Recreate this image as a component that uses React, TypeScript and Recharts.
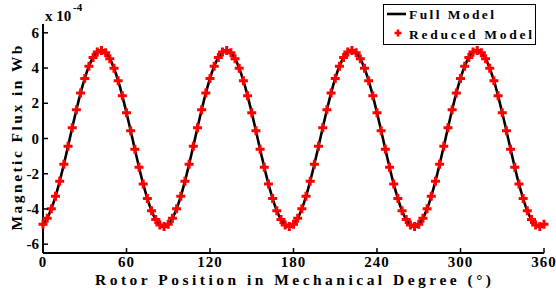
import React from "react";
import { ComposedChart, Line, XAxis, YAxis } from "recharts";

// Rotor position (mechanical degrees)
const rotorAngles = [
  0, 3, 6, 9, 12, 15, 18, 21, 24, 27, 30, 33, 36, 39, 42, 45, 48, 51, 54, 57,
  60, 63, 66, 69, 72, 75, 78, 81, 84, 87, 90, 93, 96, 99, 102, 105, 108, 111, 114, 117,
  120, 123, 126, 129, 132, 135, 138, 141, 144, 147, 150, 153, 156, 159, 162, 165, 168, 171, 174, 177,
  180, 183, 186, 189, 192, 195, 198, 201, 204, 207, 210, 213, 216, 219, 222, 225, 228, 231, 234, 237,
  240, 243, 246, 249, 252, 255, 258, 261, 264, 267, 270, 273, 276, 279, 282, 285, 288, 291, 294, 297,
  300, 303, 306, 309, 312, 315, 318, 321, 324, 327, 330, 333, 336, 339, 342, 345, 348, 351, 354, 357,
  360,
];

// Magnetic flux (x 10^-4 Wb), full model
const fullModelFlux = [
  -4.87, -4.53, -3.99, -3.28, -2.42, -1.46, -0.44, 0.61, 1.63, 2.58, 3.41, 4.1, 4.6, 4.91, 5.0, 4.87, 4.53, 3.99, 3.28, 2.42, 1.46, 0.44, -0.61, -1.63, -2.58, -3.41, -4.1, -4.6, -4.91, -5.0,
  -4.87, -4.53, -3.99, -3.28, -2.42, -1.46, -0.44, 0.61, 1.63, 2.58, 3.41, 4.1, 4.6, 4.91, 5.0, 4.87, 4.53, 3.99, 3.28, 2.42, 1.46, 0.44, -0.61, -1.63, -2.58, -3.41, -4.1, -4.6, -4.91, -5.0,
  -4.87, -4.53, -3.99, -3.28, -2.42, -1.46, -0.44, 0.61, 1.63, 2.58, 3.41, 4.1, 4.6, 4.91, 5.0, 4.87, 4.53, 3.99, 3.28, 2.42, 1.46, 0.44, -0.61, -1.63, -2.58, -3.41, -4.1, -4.6, -4.91, -5.0,
  -4.87, -4.53, -3.99, -3.28, -2.42, -1.46, -0.44, 0.61, 1.63, 2.58, 3.41, 4.1, 4.6, 4.91, 5.0, 4.87, 4.53, 3.99, 3.28, 2.42, 1.46, 0.44, -0.61, -1.63, -2.58, -3.41, -4.1, -4.6, -4.91, -5.0,
  -4.87,
];

// Magnetic flux (x 10^-4 Wb), reduced model
const reducedModelFlux = [
  -4.87, -4.53, -3.99, -3.28, -2.42, -1.46, -0.44, 0.61, 1.63, 2.58, 3.41, 4.1, 4.6, 4.91, 5.0, 4.87, 4.53, 3.99, 3.28, 2.42, 1.46, 0.44, -0.61, -1.63, -2.58, -3.41, -4.1, -4.6, -4.91, -5.0,
  -4.87, -4.53, -3.99, -3.28, -2.42, -1.46, -0.44, 0.61, 1.63, 2.58, 3.41, 4.1, 4.6, 4.91, 5.0, 4.87, 4.53, 3.99, 3.28, 2.42, 1.46, 0.44, -0.61, -1.63, -2.58, -3.41, -4.1, -4.6, -4.91, -5.0,
  -4.87, -4.53, -3.99, -3.28, -2.42, -1.46, -0.44, 0.61, 1.63, 2.58, 3.41, 4.1, 4.6, 4.91, 5.0, 4.87, 4.53, 3.99, 3.28, 2.42, 1.46, 0.44, -0.61, -1.63, -2.58, -3.41, -4.1, -4.6, -4.91, -5.0,
  -4.87, -4.53, -3.99, -3.28, -2.42, -1.46, -0.44, 0.61, 1.63, 2.58, 3.41, 4.1, 4.6, 4.91, 5.0, 4.87, 4.53, 3.99, 3.28, 2.42, 1.46, 0.44, -0.61, -1.63, -2.58, -3.41, -4.1, -4.6, -4.91, -5.0,
  -4.87,
];

const xTicks = [0, 60, 120, 180, 240, 300, 360];
const yTicks = [-6, -4, -2, 0, 2, 4, 6];
const seriesNames = ["Full Model", "Reduced Model"];
const xAxisTitle = "Rotor Position in Mechanical Degree (°)";
const yAxisTitle = "Magnetic Flux in Wb";

const data = rotorAngles.map((a, i) => ({
  angle: a,
  full: fullModelFlux[i],
  reduced: reducedModelFlux[i],
}));

const FONT = "Liberation Serif, serif";
const RED = "#ff0000";

const XTick = (props: any) => {
  const { x, y, payload } = props;
  return (
    <g>
      <line x1={x} y1={y} x2={x} y2={y - 5} stroke="#000" strokeWidth={1.5} />
      <text x={x} y={y + 14} textAnchor="middle" fontFamily={FONT} fontWeight="bold" fontSize={15} letterSpacing={1}>
        {payload.value}
      </text>
    </g>
  );
};

const YTick = (props: any) => {
  const { x, y, payload } = props;
  return (
    <g>
      <line x1={x} y1={y} x2={x + 5} y2={y} stroke="#000" strokeWidth={1.5} />
      <text x={x - 4} y={y + 5} textAnchor="end" fontFamily={FONT} fontWeight="bold" fontSize={15}>
        {payload.value}
      </text>
    </g>
  );
};

const Plus = (props: any) => {
  const { cx, cy, index } = props;
  if (cx == null || cy == null) return <g key={index} />;
  return (
    <path
      key={index}
      d={`M${cx - 4.5},${cy}H${cx + 4.5}M${cx},${cy - 4.5}V${cy + 4.5}`}
      stroke={RED}
      strokeWidth={3}
      fill="none"
    />
  );
};

export default function App() {
  return (
    <div style={{ position: "absolute", left: 0, top: 0, width: 556, height: 290, background: "#fff" }}>
      <ComposedChart
        width={556}
        height={290}
        data={data}
        margin={{ top: 24, right: 12, bottom: 0, left: 0 }}
      >
        <XAxis
          dataKey="angle"
          type="number"
          domain={[0, 360]}
          ticks={xTicks}
          height={37}
          tickSize={0}
          tickMargin={0}
          tickLine={false}
          axisLine={{ stroke: "#000", strokeWidth: 2 }}
          tick={<XTick />}
          interval={0}
        />
        <YAxis
          type="number"
          domain={[-6.5, 6.5]}
          ticks={yTicks}
          width={43}
          tickSize={0}
          tickMargin={0}
          tickLine={false}
          axisLine={{ stroke: "#000", strokeWidth: 2 }}
          tick={<YTick />}
          interval={0}
          allowDataOverflow
        />
        <Line
          dataKey="full"
          name={seriesNames[0]}
          type="monotone"
          stroke="#000"
          strokeWidth={2.6}
          dot={false}
          isAnimationActive={false}
        />
        <Line
          dataKey="reduced"
          name={seriesNames[1]}
          type="linear"
          stroke="none"
          dot={<Plus />}
          activeDot={false}
          isAnimationActive={false}
        />
        <text x={45} y={21} fontFamily={FONT} fontWeight="bold" fontSize={15}>x 10</text>
        <text x={73} y={11} fontFamily={FONT} fontWeight="bold" fontSize={11}>-4</text>
        <text
          x={293}
          y={285}
          textAnchor="middle"
          fontFamily={FONT}
          fontWeight="bold"
          fontSize={15.5}
          textLength={396}
          lengthAdjust="spacing"
        >
          {xAxisTitle}
        </text>
        <text
          transform="translate(22,138) rotate(-90)"
          x={0}
          y={0}
          textAnchor="middle"
          fontFamily={FONT}
          fontWeight="bold"
          fontSize={15.5}
          textLength={185}
          lengthAdjust="spacing"
        >
          {yAxisTitle}
        </text>
        <g>
          <rect x={383.5} y={4.5} width={152} height={40} fill="#fff" stroke="#000" strokeWidth={1} />
          <line x1={387} y1={14} x2={406} y2={14} stroke="#000" strokeWidth={2.6} />
          <text x={409} y={19} fontFamily={FONT} fontWeight="bold" fontSize={13.5} textLength={85} lengthAdjust="spacing">
            {seriesNames[0]}
          </text>
          <path d="M394.5,33H401.5M398,29.5V36.5" stroke={RED} strokeWidth={2.6} />
          <text x={409} y={39} fontFamily={FONT} fontWeight="bold" fontSize={13.5} textLength={123} lengthAdjust="spacing">
            {seriesNames[1]}
          </text>
        </g>
      </ComposedChart>
    </div>
  );
}
